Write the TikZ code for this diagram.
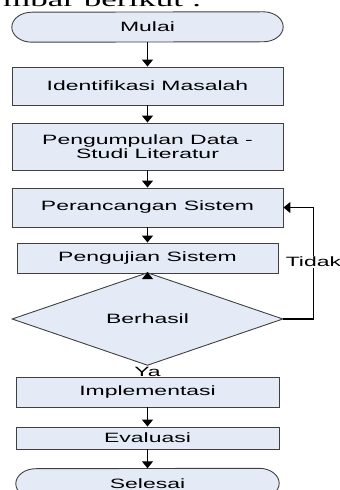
\documentclass[tikz,border=0pt]{standalone}
\usepackage{fontspec}
\setmainfont{Liberation Sans}[FakeStretch=1.7]
\newfontfamily\serifwide{Liberation Serif}[FakeStretch=1.75]
\usetikzlibrary{arrows.meta, shapes.geometric, backgrounds}
\definecolor{boxfill}{RGB}{228, 235, 247}
\definecolor{boxline}{RGB}{64, 64, 64}

\begin{document}
\begin{tikzpicture}[x=1pt, y=1pt,
  every node/.style={font=\fontsize{13.5}{13.5}\selectfont},
  proc/.style={rectangle, draw=boxline, fill=boxfill, line width=0.9pt, inner sep=0pt, align=center},
  term/.style={rectangle, inner sep=0pt, minimum height=30},
  decide/.style={diamond, draw=boxline, fill=boxfill, line width=0.9pt, inner sep=0pt, minimum width=271, minimum height=58},
  flow/.style={line width=1.2pt, -{Triangle[width=11pt, length=7pt]}}]
  \useasboundingbox (0,0) rectangle (340,490);
  \node[anchor=base west, inner sep=0pt, font=\serifwide\fontsize{20}{22}\selectfont] (intro) at (3,483.5) {mbar berikut :};
  \node[term, minimum width=231] (mulai) at (147.5,463) {Mulai};
  \node[proc, minimum width=271, minimum height=38] (ident) at (147.5,404) {Identifikasi Masalah};
  \node[proc, minimum width=271, minimum height=47] (data) at (147.5,343.5) {Pengumpulan Data -\\Studi Literatur};
  \node[proc, minimum width=271, minimum height=39] (rancang) at (147.5,282.5) {Perancangan Sistem};
  \node[proc, minimum width=261, minimum height=30] (uji) at (147.5,232) {Pengujian Sistem};
  \node[decide] (cek) at (147.5,171) {Berhasil};
  \node[proc, minimum width=263, minimum height=30] (impl) at (147.5,98) {Implementasi};
  \node[proc, minimum width=263, minimum height=22] (eval) at (147.5,52) {Evaluasi};
  \node[term, minimum width=223] (selesai) at (147.5,6.5) {Selesai};
  \begin{scope}[on background layer]
    \foreach \n in {mulai, selesai}
      \draw[draw=boxline, fill=boxfill, line width=0.9pt] (\n.north east) arc[start angle=90, end angle=-90, x radius=20, y radius=15] -- (\n.south west) arc[start angle=270, end angle=90, x radius=20, y radius=15] -- cycle;
  \end{scope}
  \draw[flow] (mulai) -- (ident);
  \draw[flow] (ident) -- (data);
  \draw[flow] (data) -- (rancang);
  \draw[flow] (rancang) -- (uji);
  \draw[flow] (uji) -- (cek.north);
  \draw[flow] (cek.south) -- node[pos=0.55, fill=white, inner sep=1pt] {Ya} (impl);
  \draw[flow] (impl) -- (eval);
  \draw[flow] (eval) -- (selesai);
  \draw[flow] (cek.east) -- ++(30,0) |- node[pos=0.255, fill=white, inner sep=1pt] {Tidak} (rancang.east);
\end{tikzpicture}
\end{document}
